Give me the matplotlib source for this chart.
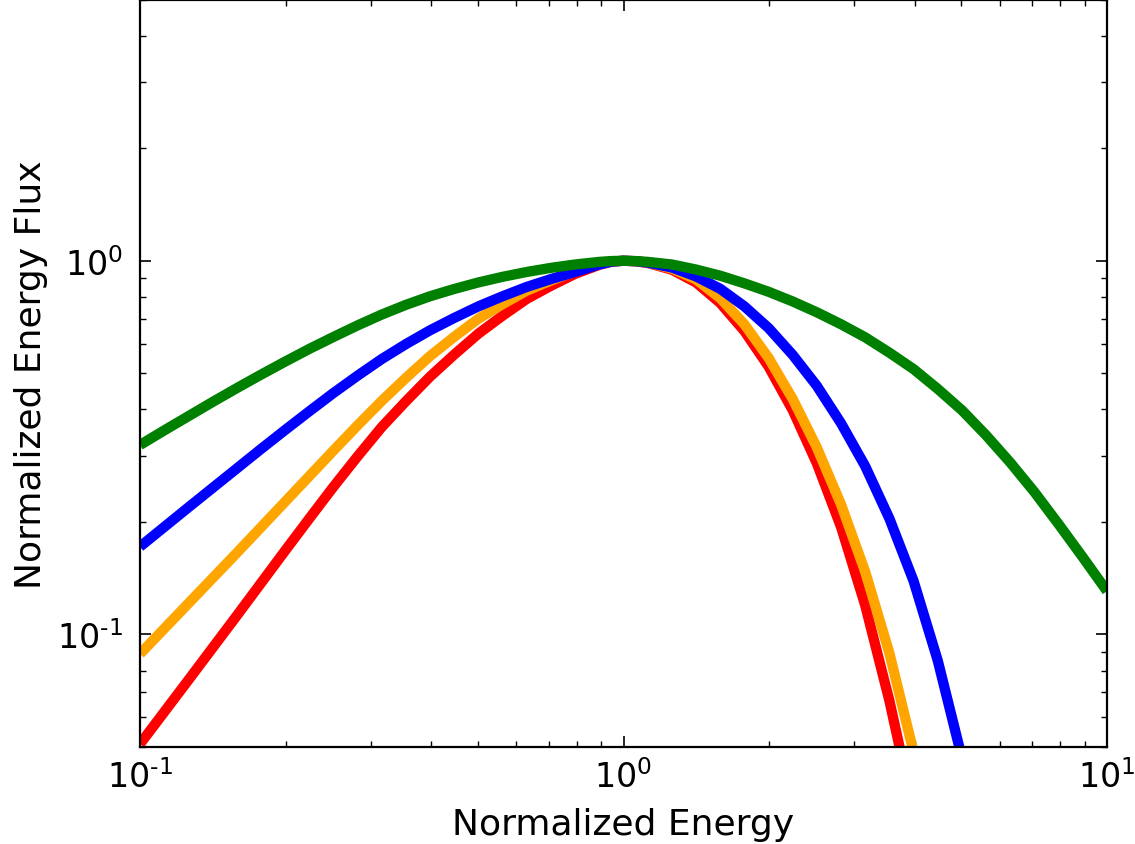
import matplotlib
matplotlib.use("Agg")
import matplotlib.pyplot as plt
from matplotlib.ticker import FuncFormatter
import numpy as np

# Values, as log10(normalized energy) and log10(normalized energy flux)
red_log_e = [-1.0, -0.95, -0.9, -0.85, -0.8, -0.75, -0.7, -0.65, -0.6, -0.55, -0.5, -0.45, -0.4, -0.35,
             -0.3, -0.25, -0.2, -0.15, -0.1, -0.05, -0.025, 0.0, 0.025,
             0.05, 0.1, 0.15, 0.2, 0.25, 0.3, 0.35, 0.4, 0.45, 0.5, 0.55, 0.6]
red_log_f = [-1.293, -1.2075, -1.122, -1.036, -0.950, -0.863, -0.776, -0.690, -0.605, -0.5235, -0.445, -0.376,
             -0.310, -0.251, -0.195, -0.147, -0.102, -0.067, -0.035, -0.011, -0.0028, 0.0, -0.0015,
             -0.006, -0.024, -0.058, -0.113, -0.188, -0.283, -0.400, -0.5425, -0.7125, -0.9225, -1.1775, -1.4725]

orange_log_e = [-1.0, -0.95, -0.9, -0.85, -0.8, -0.75, -0.7, -0.65, -0.6, -0.55, -0.5, -0.45, -0.4, -0.35,
                -0.3, -0.25, -0.2, -0.15, -0.1, -0.05, -0.025, 0.0, 0.025,
                0.05, 0.1, 0.15, 0.2, 0.25, 0.3, 0.35, 0.4, 0.45, 0.5, 0.55, 0.6]
orange_log_f = [-1.052, -0.9845, -0.917, -0.8495, -0.782, -0.7135, -0.645, -0.5765, -0.508, -0.4405, -0.375,
                -0.3135, -0.255, -0.2035, -0.155, -0.116, -0.080, -0.053, -0.028, -0.009, -0.0022, 0.0, -0.0012,
                -0.005, -0.021, -0.050, -0.100, -0.170, -0.260, -0.370, -0.500, -0.6525, -0.8325, -1.050, -1.315]

blue_log_e = [-1.0, -0.95, -0.9, -0.85, -0.8, -0.75, -0.7, -0.65, -0.6, -0.55, -0.5, -0.45, -0.4, -0.35,
              -0.3, -0.25, -0.2, -0.15, -0.1, -0.05, -0.025, 0.0, 0.025,
              0.05, 0.1, 0.15, 0.2, 0.25, 0.3, 0.35, 0.4, 0.45, 0.5, 0.55, 0.6, 0.65, 0.7]
blue_log_f = [-0.765, -0.7125, -0.660, -0.608, -0.556, -0.504, -0.453, -0.403, -0.354, -0.3075, -0.263, -0.223,
              -0.186, -0.153, -0.122, -0.095, -0.070, -0.049, -0.030, -0.010, -0.0025, 0.0, -0.0012,
              -0.005, -0.018, -0.042, -0.075, -0.122, -0.180, -0.252, -0.335, -0.435, -0.550, -0.690, -0.857,
              -1.070, -1.330]

green_log_e = [-1.0, -0.95, -0.9, -0.85, -0.8, -0.75, -0.7, -0.65, -0.6, -0.55, -0.5, -0.45, -0.4, -0.35,
               -0.3, -0.25, -0.2, -0.15, -0.1, -0.05, -0.025, 0.0, 0.025,
               0.05, 0.1, 0.15, 0.2, 0.25, 0.3, 0.35, 0.4, 0.45, 0.5, 0.55, 0.6, 0.65, 0.7, 0.75,
               0.8, 0.85, 0.9, 0.95, 1.0]
green_log_f = [-0.493, -0.454, -0.416, -0.378, -0.341, -0.305, -0.270, -0.236, -0.204, -0.173, -0.144, -0.118,
               -0.095, -0.0755, -0.058, -0.043, -0.030, -0.019, -0.010, -0.003, -0.0008, 0.0, -0.0008,
               -0.003, -0.010, -0.0235, -0.040, -0.0605, -0.083, -0.109, -0.138, -0.170, -0.205, -0.246,
               -0.290, -0.343, -0.400, -0.467, -0.540, -0.619, -0.705, -0.7935, -0.884]

series = [
    (red_log_e, red_log_f, "red"),
    (orange_log_e, orange_log_f, "orange"),
    (blue_log_e, blue_log_f, "blue"),
    (green_log_e, green_log_f, "green"),
]

W, H = 1135, 845
fig = plt.figure(figsize=(W / 100, H / 100), dpi=100)
ax = fig.add_axes([140 / W, (H - 748) / H, 967 / W, 747.5 / H])

for le, lf, c in series:
    ax.plot(np.power(10.0, le), np.power(10.0, lf), color=c, lw=7.4,
            solid_joinstyle="round", solid_capstyle="butt")

ax.set_xscale("log")
ax.set_yscale("log")
ax.set_xlim(0.1, 10)
ax.set_ylim(0.05, 5)


def decade_label(v, pos):
    e = int(round(np.log10(v)))
    if not np.isclose(v, 10.0 ** e):
        return ""
    if e < 0:
        return r"$10^{\text{-}%d}$" % (-e)
    return r"$10^{%d}$" % e


ax.xaxis.set_major_formatter(FuncFormatter(decade_label))
ax.yaxis.set_major_formatter(FuncFormatter(decade_label))

for s in ax.spines.values():
    s.set_linewidth(1.6)

ax.tick_params(which="both", direction="in", top=True, right=True)
ax.tick_params(which="major", length=8, width=1.2, labelsize=24, pad=9)
ax.tick_params(which="minor", length=4.5, width=1.0)
ax.tick_params(axis="y", which="major", pad=12)

ax.set_xlabel("Normalized Energy", fontsize=26, labelpad=9)
ax.set_ylabel("Normalized Energy Flux", fontsize=26, labelpad=7)

fig.savefig("out.png", dpi=100)
